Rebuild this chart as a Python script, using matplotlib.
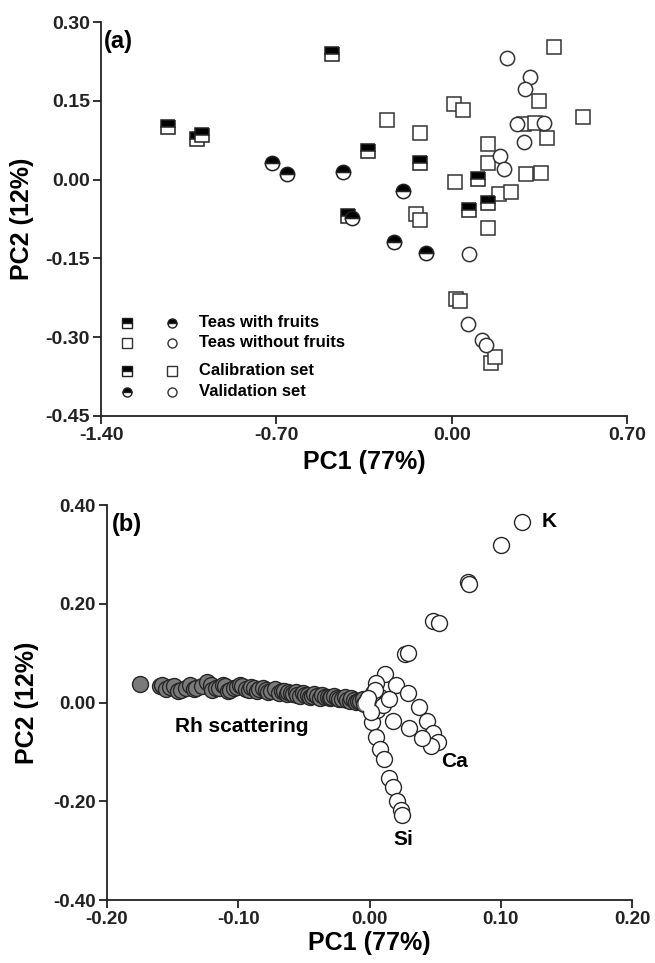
import matplotlib
matplotlib.use("Agg")
import matplotlib.pyplot as plt
import numpy as np

plt.rcParams['font.family'] = ['Liberation Sans', 'DejaVu Sans']
plt.rcParams['font.weight'] = 'bold'
plt.rcParams['axes.unicode_minus'] = False

# ---------------- Panel (a) data ----------------
cal_fruit_x = [-1.132, -1.016, -0.996, -0.476, -0.336, -0.128, 0.104, 0.144, 0.068, -0.412]
cal_fruit_y = [0.101, 0.078, 0.084, 0.240, 0.055, 0.032, 0.002, -0.044, -0.057, -0.070]
val_fruit_x = [-0.716, -0.656, -0.432, -0.196, -0.232, -0.104, -0.396]
val_fruit_y = [0.032, 0.010, 0.015, -0.021, -0.118, -0.139, -0.074]
cal_nofruit_x = [-0.26, 0.408, 0.348, 0.008, 0.044, -0.128, 0.524, 0.288, 0.332, 0.38, 0.144, 0.144,
                 0.296, 0.356, 0.012, 0.188, 0.236, -0.144, -0.128, 0.144, 0.016, 0.032, 0.156, 0.172]
cal_nofruit_y = [0.114, 0.252, 0.149, 0.143, 0.133, 0.089, 0.120, 0.105, 0.107, 0.080, 0.067, 0.032,
                 0.010, 0.013, -0.004, -0.027, -0.023, -0.065, -0.076, -0.093, -0.227, -0.232, -0.349, -0.337]
val_nofruit_x = [0.22, 0.312, 0.292, 0.26, 0.368, 0.288, 0.192, 0.208, 0.068, 0.064, 0.12, 0.136]
val_nofruit_y = [0.232, 0.195, 0.173, 0.105, 0.107, 0.071, 0.044, 0.021, -0.141, -0.274, -0.305, -0.314]

a_xticks = [-1.40, -0.70, 0.00, 0.70]
a_yticks = [-0.45, -0.30, -0.15, 0.00, 0.15, 0.30]

# ---------------- Panel (b) data ----------------
rh_x = [-0.175, -0.160, -0.158, -0.155, -0.152, -0.149, -0.146, -0.144, -0.140, -0.137, -0.134,
        -0.132, -0.128, -0.124, -0.121, -0.120, -0.117, -0.115, -0.112, -0.110, -0.108, -0.106,
        -0.103, -0.101, -0.099, -0.097, -0.094, -0.092, -0.090, -0.088, -0.086, -0.084, -0.081,
        -0.079, -0.077, -0.075, -0.072, -0.069, -0.067, -0.065, -0.063, -0.062, -0.060, -0.058,
        -0.056, -0.055, -0.053, -0.051, -0.049, -0.047, -0.045, -0.044, -0.042, -0.040, -0.038,
        -0.036, -0.034, -0.032, -0.030, -0.029, -0.027, -0.025, -0.023, -0.021, -0.019, -0.017,
        -0.015, -0.014, -0.012, -0.010, -0.009, -0.007, -0.005, -0.004, -0.003, -0.002]
rh_y = [0.038, 0.033, 0.036, 0.028, 0.031, 0.033, 0.024, 0.026, 0.030, 0.036, 0.027,
        0.030, 0.033, 0.041, 0.035, 0.026, 0.029, 0.030, 0.036, 0.033, 0.024, 0.026,
        0.029, 0.031, 0.036, 0.034, 0.028, 0.026, 0.031, 0.030, 0.024, 0.028, 0.030,
        0.025, 0.021, 0.023, 0.027, 0.020, 0.024, 0.024, 0.018, 0.021, 0.019, 0.018,
        0.022, 0.016, 0.014, 0.019, 0.015, 0.016, 0.012, 0.014, 0.017, 0.013, 0.010,
        0.015, 0.012, 0.011, 0.009, 0.012, 0.013, 0.010, 0.007, 0.008, 0.011, 0.006,
        0.004, 0.009, 0.005, 0.002, 0.004, 0.003, 0.007, -0.004, 0.002, 0.005]
load_x = [0.116, 0.100, 0.075, 0.076, 0.048, 0.053, 0.027, 0.029, 0.012, 0.020, 0.029,
          0.038, 0.044, 0.048, 0.052, 0.047, 0.018, 0.030, 0.040,
          0.002, 0.005, 0.008, 0.011, 0.015, 0.018, 0.021, 0.024, 0.025,
          0.005, 0.008, 0.006, 0.010, 0.015, 0.003, 0.001, 0.004, -0.001]
load_y = [0.366, 0.318, 0.245, 0.239, 0.166, 0.162, 0.099, 0.101, 0.057, 0.036, 0.020,
          -0.010, -0.038, -0.061, -0.081, -0.089, -0.038, -0.051, -0.071,
          -0.040, -0.069, -0.095, -0.115, -0.152, -0.172, -0.200, -0.217, -0.227,
          0.040, 0.012, -0.015, -0.005, 0.008, 0.020, -0.020, 0.025, 0.010]
origin_x = [-0.003]
origin_y = [0.000]
b_xticks = [-0.20, -0.10, 0.00, 0.10, 0.20]
b_yticks = [-0.40, -0.20, 0.00, 0.20, 0.40]

W, H = 655, 963
fig = plt.figure(figsize=(W / 100, H / 100), dpi=100)

def style_axes(ax, fs=14):
    for s in ['top', 'right']:
        ax.spines[s].set_visible(False)
    for s in ['left', 'bottom']:
        ax.spines[s].set_linewidth(1.3)
        ax.spines[s].set_color('#222222')
    ax.tick_params(direction='out', length=6, width=1.3, colors='#222222',
                   labelsize=fs, pad=2)
    for lab in ax.get_xticklabels() + ax.get_yticklabels():
        lab.set_fontweight('bold')

# ---------------- Panel (a) ----------------
axa = fig.add_axes([101 / W, 1 - 416 / H, (627 - 101) / W, (416 - 22) / H])
ms = 9.5
ec = '#222222'
axa.plot(cal_nofruit_x, cal_nofruit_y, 's', ms=ms, mfc='white', mec='#333333', mew=1.1, ls='none')
axa.plot(val_nofruit_x, val_nofruit_y, 'o', ms=ms + 0.8, mfc='white', mec='#333333', mew=1.1, ls='none')
axa.plot(cal_fruit_x, cal_fruit_y, 's', ms=ms, mfc='black', mfcalt='white', fillstyle='top',
         mec=ec, mew=1.1, ls='none')
axa.plot(val_fruit_x, val_fruit_y, 'o', ms=ms + 0.8, mfc='black', mfcalt='white', fillstyle='top',
         mec=ec, mew=1.1, ls='none')
axa.set_xlim(-1.40, 0.70)
axa.set_ylim(-0.45, 0.30)
axa.set_xticks(a_xticks)
axa.set_xticklabels([f"{v:.2f}" for v in a_xticks])
axa.set_yticks(a_yticks)
axa.set_yticklabels([f"{v:.2f}" for v in a_yticks])
style_axes(axa)
axa.set_xlabel('PC1 (77%)', fontsize=18, fontweight='bold', labelpad=4)
axa.set_ylabel('PC2 (12%)', fontsize=18, fontweight='bold', labelpad=8)
axa.text(0.005, 0.95, '(a)', transform=axa.transAxes, fontsize=17, fontweight='bold',
         va='center', ha='left')

# legend (custom layout)
leg_rows = [
    (0.237, ('s', 'top'), ('o', 'top'), 'Teas with fruits'),
    (0.186, ('s', 'none'), ('o', 'none'), 'Teas without fruits'),
    (0.115, ('s', 'top'), ('s', 'none'), 'Calibration set'),
    (0.062, ('o', 'top'), ('o', 'none'), 'Validation set'),
]
for yy, m1, m2, txt in leg_rows:
    for xx, (mk, fs) in zip([(127 - 101) / (627 - 101), (172 - 101) / (627 - 101)], [m1, m2]):
        if fs == 'top':
            axa.plot([xx], [yy], mk, transform=axa.transAxes, ms=6.5, mfc='black', mfcalt='white',
                     fillstyle='top', mec=ec, mew=1.0, clip_on=False)
        else:
            axa.plot([xx], [yy], mk, transform=axa.transAxes, ms=6.5, mfc='white',
                     mec='#333333', mew=1.0, clip_on=False)
    axa.text((199 - 101) / (627 - 101), yy, txt, transform=axa.transAxes, fontsize=12,
             fontweight='bold', va='center', ha='left')

# ---------------- Panel (b) ----------------
axb = fig.add_axes([107 / W, 1 - 900 / H, (632 - 107) / W, (900 - 505) / H])
msb = 11.5
axb.plot(rh_x, rh_y, 'o', ms=msb, mfc='#7a7a7a', mec='#262626', mew=1.0, ls='none')
axb.plot(load_x, load_y, 'o', ms=msb, mfc='white', mec='#262626', mew=1.0, ls='none')
axb.plot(origin_x, origin_y, 'o', ms=msb - 1, mfc='white', mec='white', mew=1.0, ls='none')
axb.set_xlim(-0.20, 0.20)
axb.set_ylim(-0.40, 0.40)
axb.set_xticks(b_xticks)
axb.set_xticklabels([f"{v:.2f}" for v in b_xticks])
axb.set_yticks(b_yticks)
axb.set_yticklabels([f"{v:.2f}" for v in b_yticks])
style_axes(axb, fs=13.5)
axb.set_xlabel('PC1 (77%)', fontsize=18, fontweight='bold', labelpad=2)
axb.set_ylabel('PC2 (12%)', fontsize=18, fontweight='bold', labelpad=10)
axb.text(0.01, 0.95, '(b)', transform=axb.transAxes, fontsize=17, fontweight='bold',
         va='center', ha='left')
axb.text(0.131, 0.366, 'K', fontsize=15, fontweight='bold', va='center', ha='left')
axb.text(0.065, -0.12, 'Ca', fontsize=15, fontweight='bold', va='center', ha='center')
axb.text(0.026, -0.278, 'Si', fontsize=15, fontweight='bold', va='center', ha='center')
axb.text(-0.097, -0.048, 'Rh scattering', fontsize=15, fontweight='bold', va='center', ha='center')

fig.savefig('out.png', dpi=100)
